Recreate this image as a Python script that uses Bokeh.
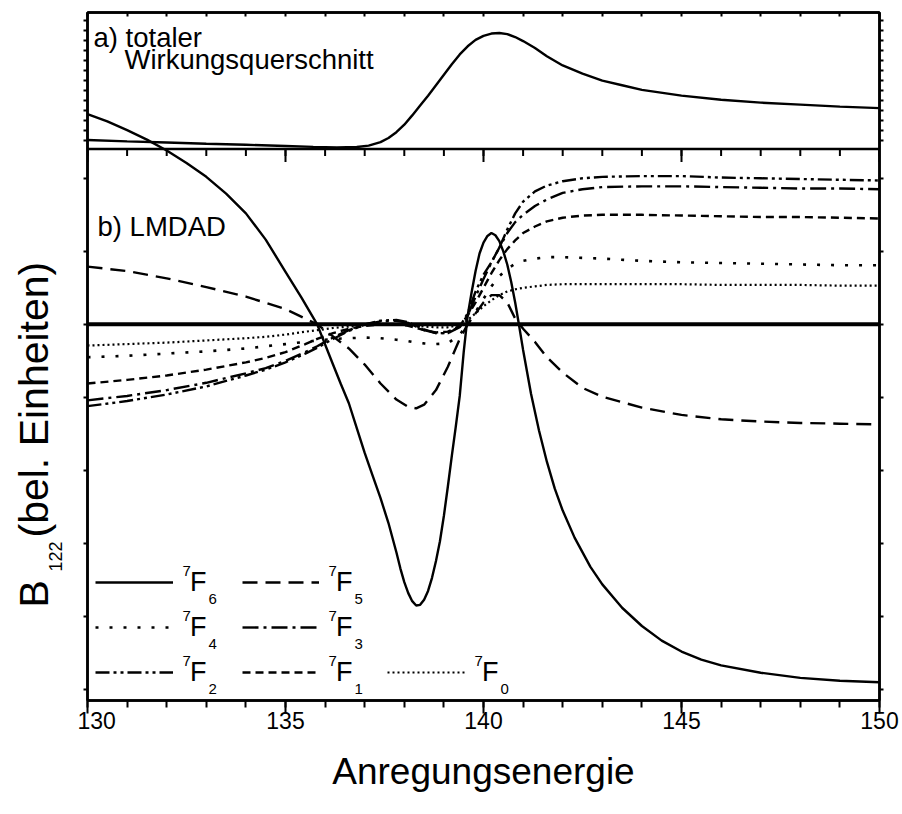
from math import pi

from bokeh.plotting import figure
from bokeh.layouts import row
from bokeh.models import (Range1d, LinearAxis, FixedTicker, Span, Label,
                          Legend, LegendItem)
from bokeh.embed import file_html
from bokeh.resources import INLINE

# ---------------------------------------------------------------------------
# Panel a): total cross section (arbitrary units, peak ~ 1)
energy_tot = [130.0, 131.0, 132.0, 133.0, 134.0, 135.0, 135.7, 136.3, 136.8,
              137.1, 137.4, 137.6, 137.8, 138.0, 138.2, 138.4, 138.6, 138.8,
              139.0, 139.2, 139.4, 139.6, 139.8, 140.0, 140.2, 140.4, 140.6,
              140.8, 141.0, 141.3, 141.6, 142.0, 142.5, 143.0, 143.5, 144.0,
              145.0, 146.0, 147.0, 148.0, 149.0, 150.0]
sigma_tot = [0.078, 0.066, 0.056, 0.046, 0.037, 0.027, 0.019, 0.015, 0.018,
             0.030, 0.060, 0.095, 0.145, 0.210, 0.290, 0.375, 0.460, 0.550,
             0.640, 0.730, 0.815, 0.885, 0.940, 0.975, 0.995, 1.000, 0.990,
             0.965, 0.930, 0.870, 0.800, 0.720, 0.650, 0.590, 0.550, 0.510,
             0.460, 0.425, 0.400, 0.383, 0.366, 0.353]

# Panel b): LMDAD parameter B122 for the 7F_J final states
energy_f6 = [130.0, 130.5, 131.0, 131.5, 132.0, 132.5, 133.0, 133.5, 134.0,
             134.5, 135.0, 135.4, 135.8, 136.2, 136.4, 136.6, 136.8, 137.0,
             137.2, 137.4, 137.6, 137.8, 137.9, 138.0, 138.1, 138.2, 138.3,
             138.4, 138.5, 138.6, 138.7, 138.8, 138.9, 139.0, 139.1, 139.2,
             139.3, 139.4, 139.5, 139.6, 139.7, 139.8, 139.9, 140.0, 140.1,
             140.2, 140.3, 140.4, 140.5, 140.6, 140.7, 140.8, 140.9, 141.0,
             141.2, 141.4, 141.6, 141.8, 142.0, 142.3, 142.7, 143.0, 143.5,
             144.0, 144.5, 145.0, 145.5, 146.0, 147.0, 148.0, 149.0, 150.0]
b_f6 = [2.88, 2.78, 2.66, 2.53, 2.38, 2.21, 2.02, 1.79, 1.52,
        1.16, 0.72, 0.37, 0.00, -0.55, -0.82, -1.08, -1.42, -1.76,
        -2.07, -2.38, -2.72, -3.12, -3.34, -3.53, -3.68, -3.79, -3.85,
        -3.84, -3.77, -3.65, -3.47, -3.24, -2.97, -2.62, -2.22, -1.80,
        -1.40, -0.98, -0.38, 0.12, 0.44, 0.73, 0.97, 1.12, 1.21,
        1.25, 1.22, 1.14, 1.00, 0.82, 0.58, 0.30, -0.02, -0.35,
        -0.95, -1.45, -1.88, -2.25, -2.55, -2.92, -3.32, -3.56, -3.88,
        -4.13, -4.33, -4.48, -4.59, -4.67, -4.77, -4.84, -4.88, -4.90]

energy_f5 = [130.0, 131.0, 132.0, 133.0, 134.0, 135.0, 135.8, 136.6, 137.0,
             137.4, 137.8, 138.1, 138.3, 138.5, 138.8, 139.1, 139.4, 139.6,
             139.8, 140.0, 140.2, 140.4, 140.6, 140.8, 141.0, 141.3, 141.6,
             142.0, 142.5, 143.0, 144.0, 145.0, 146.0, 147.0, 148.0, 149.0,
             150.0]
b_f5 = [0.79, 0.73, 0.63, 0.51, 0.38, 0.21, 0.00, -0.33, -0.55,
        -0.81, -1.03, -1.13, -1.15, -1.10, -0.90, -0.58, -0.20, 0.00,
        0.15, 0.30, 0.40, 0.40, 0.30, 0.08, -0.06, -0.24, -0.45,
        -0.66, -0.87, -0.99, -1.14, -1.24, -1.30, -1.33, -1.35, -1.36,
        -1.37]

# the remaining five states share one energy grid
energy = [130.0, 131.0, 132.0, 133.0, 134.0, 134.5, 135.0, 135.5, 135.8,
          136.2, 136.6, 137.0, 137.4, 137.8, 138.1, 138.3, 138.5, 138.8,
          139.1, 139.4, 139.6, 139.8, 140.0, 140.2, 140.4, 140.6, 140.8,
          141.0, 141.3, 141.6, 142.0, 142.5, 143.0, 144.0, 145.0, 146.0,
          147.0, 148.0, 149.0, 150.0]
b_f4 = [-0.45, -0.43, -0.40, -0.37, -0.33, -0.30, -0.27, -0.24, -0.22,
        -0.20, -0.19, -0.18, -0.19, -0.21, -0.23, -0.25, -0.26, -0.27,
        -0.26, -0.14, 0.00, 0.17, 0.35, 0.52, 0.66, 0.76, 0.83,
        0.87, 0.90, 0.92, 0.92, 0.91, 0.90, 0.87, 0.85, 0.84,
        0.83, 0.82, 0.81, 0.81]
b_f3 = [-1.04, -0.98, -0.90, -0.80, -0.67, -0.60, -0.50, -0.38, -0.30,
        -0.18, -0.08, 0.00, 0.04, 0.05, 0.02, -0.03, -0.08, -0.12,
        -0.12, -0.04, 0.12, 0.38, 0.62, 0.85, 1.05, 1.25, 1.40,
        1.50, 1.62, 1.71, 1.80, 1.85, 1.88, 1.89, 1.89, 1.88,
        1.87, 1.86, 1.86, 1.85]
b_f2 = [-1.12, -1.05, -0.96, -0.85, -0.70, -0.62, -0.52, -0.40, -0.32,
        -0.20, -0.09, 0.00, 0.05, 0.06, 0.03, -0.02, -0.07, -0.12,
        -0.12, -0.03, 0.15, 0.45, 0.68, 0.85, 1.05, 1.30, 1.52,
        1.68, 1.82, 1.90, 1.96, 2.00, 2.02, 2.03, 2.03, 2.01,
        2.00, 1.99, 1.98, 1.97]
b_f1 = [-0.81, -0.76, -0.70, -0.62, -0.52, -0.46, -0.38, -0.27, -0.20,
        -0.12, -0.06, -0.02, 0.00, 0.00, -0.02, -0.05, -0.08, -0.11,
        -0.10, -0.02, 0.12, 0.30, 0.50, 0.70, 0.88, 1.03, 1.15,
        1.25, 1.34, 1.41, 1.46, 1.49, 1.50, 1.50, 1.49, 1.48,
        1.47, 1.47, 1.46, 1.45]
b_f0 = [-0.29, -0.27, -0.25, -0.22, -0.19, -0.17, -0.14, -0.10, -0.08,
        -0.05, -0.03, -0.01, 0.00, 0.00, -0.01, -0.02, -0.03, -0.04,
        -0.04, -0.01, 0.06, 0.15, 0.25, 0.33, 0.40, 0.45, 0.48,
        0.50, 0.52, 0.54, 0.55, 0.55, 0.55, 0.55, 0.55, 0.54,
        0.54, 0.54, 0.53, 0.53]

x_major = [130, 135, 140, 145, 150]
x_minor = list(range(130, 151))
b_ticks = [-5, -4, -3, -2, -1, 0, 1, 2]

# ---------------------------------------------------------------------------
# Layout: one frame holds both panels; panel a) sits above SPLIT
TITLE_W = 77          # strip left of the plot carrying the vertical title
FRAME_W, FRAME_H = 792, 688
X_MIN, X_MAX = 130.0, 150.0
Y_MIN, Y_MAX = -5.15, 4.27
SPLIT = 2.40          # border between panel a) and panel b) in B units
SIGMA_SCALE = 1.59    # B units per cross-section unit
PX_X = FRAME_W / (X_MAX - X_MIN)
PX_Y = FRAME_H / (Y_MAX - Y_MIN)
LEFT, TOP, BOTTOM = 87, 12, 114   # frame placement on the page
H = TOP + FRAME_H + BOTTOM
FONT = "Liberation Sans"


def sx(px):
    """page pixel column -> data x"""
    return X_MIN + (px - LEFT) / PX_X


def sy(py):
    """page pixel row -> data y"""
    return Y_MAX - (py - TOP) / PX_Y


p = figure(frame_width=FRAME_W, frame_height=FRAME_H,
           x_range=Range1d(X_MIN, X_MAX), y_range=Range1d(Y_MIN, Y_MAX),
           output_backend="svg", toolbar_location=None,
           min_border_left=LEFT - TITLE_W, min_border_right=23,
           min_border_top=TOP, min_border_bottom=BOTTOM)
p.xgrid.visible = False
p.ygrid.visible = False
p.outline_line_color = "black"
p.outline_line_width = 2.5
p.background_fill_color = "white"
p.border_fill_color = "white"

p.extra_y_ranges = {"tot": Range1d((Y_MIN - SPLIT) / SIGMA_SCALE,
                                   (Y_MAX - SPLIT) / SIGMA_SCALE)}

# --- axes -----------------------------------------------------------------
xa = p.xaxis[0]
xa.ticker = FixedTicker(ticks=x_major, minor_ticks=x_minor)
xa.axis_line_width = 2.5
xa.major_tick_line_width = 2
xa.minor_tick_line_width = 2
xa.major_tick_in = 0
xa.major_tick_out = 13
xa.minor_tick_in = 0
xa.minor_tick_out = 7
xa.major_label_standoff = -2
xa.major_label_text_font = FONT
xa.major_label_text_font_size = "23px"
xa.major_label_text_color = "black"
xa.axis_label = "Anregungsenergie"
xa.axis_label_text_font = FONT
xa.axis_label_text_font_size = "37px"
xa.axis_label_text_font_style = "normal"
xa.axis_label_text_color = "black"
xa.axis_label_standoff = 19

# unlabelled ticks on the vertical edges: B122 steps in panel b),
# fine ticks in panel a)
top_ticks = [SPLIT + (9 + 10 * k) / PX_Y for k in range(13)]
ya = p.yaxis[0]
right = LinearAxis()
p.add_layout(right, "right")
for ax in (ya, right):
    ax.ticker = FixedTicker(ticks=[], minor_ticks=b_ticks + top_ticks)
    ax.axis_line_width = 2.5
    ax.minor_tick_line_width = 1.8
    ax.minor_tick_in = 0
    ax.minor_tick_out = 4
    ax.major_label_standoff = 0

above = LinearAxis(ticker=FixedTicker(ticks=[], minor_ticks=x_minor))
p.add_layout(above, "above")
above.axis_line_width = 2.5
above.minor_tick_line_width = 2
above.minor_tick_in = 4
above.minor_tick_out = 0
above.major_label_standoff = 0

# border between the two panels with inward ticks of panel b)
p.add_layout(Span(location=SPLIT, dimension="width", line_color="black",
                  line_width=2.5))
p.segment(x0=x_major, y0=[SPLIT] * len(x_major), x1=x_major,
          y1=[SPLIT - 13 / PX_Y] * len(x_major), line_color="black",
          line_width=2)
p.segment(x0=x_minor, y0=[SPLIT] * len(x_minor), x1=x_minor,
          y1=[SPLIT - 7 / PX_Y] * len(x_minor), line_color="black",
          line_width=2)

# zero line of panel b)
p.add_layout(Span(location=0, dimension="width", line_color="black",
                  line_width=4))

# --- curves ---------------------------------------------------------------
LW = 2.4
p.line(energy_tot, sigma_tot, y_range_name="tot", line_color="black",
       line_width=LW)

series = [
    ("6", energy_f6, b_f6, "solid", LW),
    ("5", energy_f5, b_f5, "15 8", LW),
    ("4", energy, b_f4, "3 11", 2.6),
    ("3", energy, b_f3, "16 5 3 5", LW),
    ("2", energy, b_f2, "14 4 3 4 3 4", LW),
    ("1", energy, b_f1, "8 5", LW),
    ("0", energy, b_f0, "2 3", 2.2),
]
renderers = {}
for j, xs, ys, dash, lw in series:
    assert len(xs) == len(ys), j
    renderers[j] = p.line(xs, ys, line_color="black", line_width=lw,
                          line_dash=dash)

# --- legend: one entry per state, "F" as the entry text ---------------------
ITEM_H = 32
legend_slots = {"6": (582, 95, 78), "5": (582, 242, 77),
                "4": (627, 95, 78), "3": (627, 242, 77),
                "2": (672, 95, 78), "1": (672, 242, 77), "0": (672, 387, 78)}
for j, (ry, gx, gw) in legend_slots.items():
    lg = Legend(items=[LegendItem(label="F", renderers=[renderers[j]])],
                location=(gx - LEFT, TOP + FRAME_H - ry - ITEM_H / 2),
                glyph_width=gw, glyph_height=ITEM_H, label_height=ITEM_H,
                label_standoff=17, spacing=0, padding=0, margin=0,
                border_line_color=None, background_fill_alpha=0,
                label_text_font=FONT, label_text_font_size="27px",
                label_text_color="black")
    p.add_layout(lg)
    tx = gx + gw + 9
    p.add_layout(Label(x=sx(tx), y=sy(ry - 12), text="7", text_font=FONT,
                       text_font_size="15px", text_color="black",
                       text_baseline="middle"))
    p.add_layout(Label(x=sx(tx + 26), y=sy(ry + 16), text=j, text_font=FONT,
                       text_font_size="15px", text_color="black",
                       text_baseline="middle"))

# --- panel captions (anchored at their vertical centre) ---------------------
for txt, px, py in [("a) totaler", 93, 37), ("Wirkungsquerschnitt", 124, 59),
                    ("b) LMDAD", 97, 226)]:
    p.add_layout(Label(x=sx(px), y=sy(py), text=txt, text_font=FONT,
                       text_font_size="27.5px", text_color="black",
                       text_baseline="middle"))

# --- vertical title B_122 (bel. Einheiten) in its own strip -----------------
# the strip's frame is aligned with the plot frame, so map it to page rows
t = figure(width=TITLE_W, height=H, x_range=Range1d(0, TITLE_W),
           y_range=Range1d(H - TOP - FRAME_H, H - TOP), min_border=0,
           x_axis_location=None, y_axis_location=None,
           toolbar_location=None, output_backend="svg")
t.outline_line_color = None
t.grid.visible = False
t.background_fill_color = "white"
t.border_fill_color = "white"
for txt, px, py, size in [("B", 33, 607, "41px"), ("122", 55, 571, "18px"),
                          ("(bel. Einheiten)", 33, 537, "41px")]:
    t.add_layout(Label(x=px, y=H - py, text=txt, angle=pi / 2,
                       text_font=FONT, text_font_size=size,
                       text_color="black", text_baseline="middle",
                       text_align="left"))

layout = row(t, p, spacing=0)
open("out.html", "w").write(file_html(layout, INLINE))
